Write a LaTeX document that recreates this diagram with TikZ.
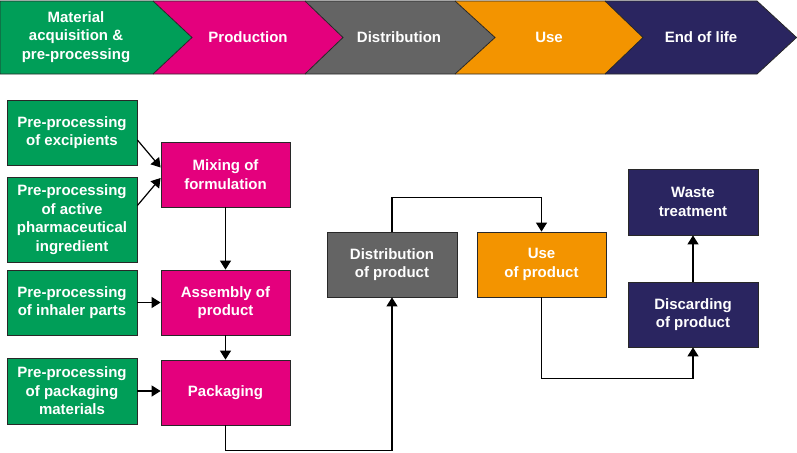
\documentclass[tikz,border=0pt]{standalone}
\usepackage{fontspec}
\setmainfont{Liberation Sans}
\usetikzlibrary{arrows.meta}
\definecolor{cgreen}{RGB}{0,158,88}
\definecolor{cpink}{RGB}{228,0,125}
\definecolor{cgray}{RGB}{100,100,100}
\definecolor{corange}{RGB}{243,148,0}
\definecolor{cnavy}{RGB}{42,37,96}
\definecolor{cline}{RGB}{40,40,40}
\begin{document}
\begin{tikzpicture}[x=1pt,y=-1pt,
  lbl/.style={text=white, font=\bfseries\fontsize{15}{18.5}\selectfont, align=center, inner sep=0pt},
  box/.style={lbl, draw=cline, line width=0.8pt, minimum width=130pt, minimum height=65pt},
  chev/.style={draw=cline, line width=0.8pt},
  conn/.style={draw=black, line width=1.2pt, -{Triangle[length=9pt,width=11pt]}}]
\useasboundingbox (0,0) rectangle (797,452);
% banner
\fill[cgreen] (0,1) -- (153,1) -- (192,37.5) -- (153,74) -- (0,74) -- cycle;
\fill[cpink] (153,1) -- (305,1) -- (343,37.5) -- (305,74) -- (153,74) -- (192,37.5) -- cycle;
\fill[cgray] (305,1) -- (455,1) -- (495,37.5) -- (455,74) -- (305,74) -- (343,37.5) -- cycle;
\fill[corange] (455,1) -- (605,1) -- (643,37.5) -- (605,74) -- (455,74) -- (495,37.5) -- cycle;
\fill[cnavy] (605,1) -- (757,1) -- (796.5,37.5) -- (757,74) -- (605,74) -- (643,37.5) -- cycle;
\draw[chev] (0,74) -- (0,1) -- (757,1) -- (796.5,37.5) -- (757,74) -- cycle;
\draw[chev] (153,1) -- (192,37.5) -- (153,74);
\draw[chev] (305,1) -- (343,37.5) -- (305,74);
\draw[chev] (455,1) -- (495,37.5) -- (455,74);
\draw[chev] (605,1) -- (643,37.5) -- (605,74);
\node[lbl] (b1) at (76,37) {Material\\acquisition \&\\pre-processing};
\node[lbl] (b2) at (248,37) {Production};
\node[lbl] (b3) at (399,37) {Distribution};
\node[lbl] (b4) at (549,37) {Use};
\node[lbl] (b5) at (701,37) {End of life};
% boxes
\node[box, fill=cgreen] (e1) at (72,132.5) {Pre-processing\\of excipients};
\node[box, fill=cgreen, minimum height=85pt] (e2) at (72,219.5) {Pre-processing\\of active\\pharmaceutical\\ingredient};
\node[box, fill=cgreen] (e3) at (72,302.5) {Pre-processing\\of inhaler parts};
\node[box, fill=cgreen, minimum height=66pt] (e4) at (72,391) {Pre-processing\\of packaging\\materials};
\node[box, fill=cpink, minimum width=129pt] (mix) at (225.5,174.5) {Mixing of\\formulation};
\node[box, fill=cpink, minimum width=129pt] (asm) at (225.5,302.5) {Assembly of\\product};
\node[box, fill=cpink, minimum width=129pt] (pack) at (225.5,392.5) {Packaging};
\node[box, fill=cgray] (dist) at (392,264.5) {Distribution\\of product};
\node[box, fill=corange, minimum width=129pt] (use) at (541.5,264.5) {Use\\of product};
\node[box, fill=cnavy, minimum height=66pt] (waste) at (693,202) {Waste\\treatment};
\node[box, fill=cnavy] (disc) at (693,314.5) {Discarding\\of product};
% connectors
\draw[conn] ([yshift=-7.5pt]e1.east) -- ([yshift=7pt]mix.west);
\draw[conn] ([yshift=14pt]e2.east) -- ([yshift=-3.5pt]mix.west);
\draw[conn] (mix.south) -- (asm.north);
\draw[conn] (e3.east) -- (asm.west);
\draw[conn] (asm.south) -- (pack.north);
\draw[conn] (e4.east) -- (e4.east -| pack.west);
\draw[conn] (pack.south) -- ++(0,25) -| (dist.south);
\draw[conn] (dist.north) -- ++(0,-34) -| (use.north);
\draw[conn] (use.south) -- ++(0,81) -| (disc.south);
\draw[conn] (disc.north) -- (waste.south);
\end{tikzpicture}
\end{document}
